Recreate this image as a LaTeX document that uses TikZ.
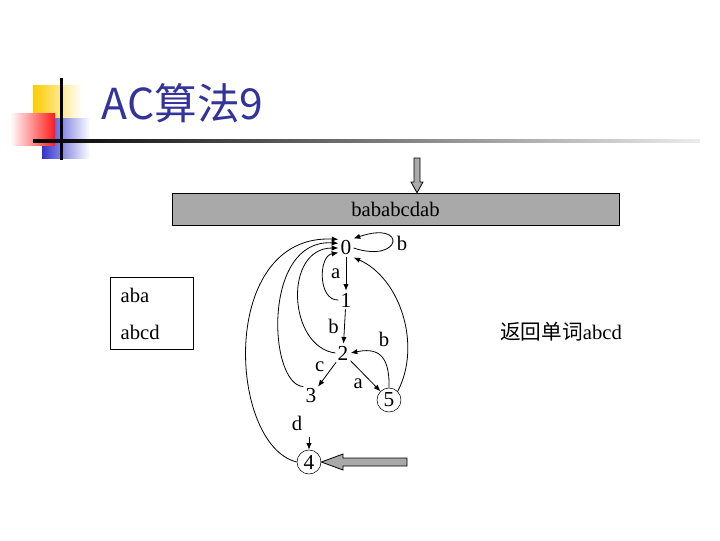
\documentclass[tikz,border=0pt]{standalone}
\usepackage{fontspec}
\setmainfont{Liberation Serif}
\newfontfamily\cjk{Noto Sans CJK SC}
\usetikzlibrary{arrows.meta,positioning}
\definecolor{titleblue}{HTML}{33339A}
\definecolor{bargray}{HTML}{A9A9A9}
\definecolor{decoyellow}{HTML}{FFCC00}
\definecolor{decored}{HTML}{FF1A1A}
\definecolor{decoblue}{HTML}{3333CC}

\begin{document}
\begin{tikzpicture}[x=0.75pt,y=-0.75pt,
  state/.style={inner sep=1.5pt,font=\fontsize{16}{18}\selectfont},
  accept/.style={state,draw,circle,minimum size=18pt,inner sep=0pt},
  lbl/.style={font=\fontsize{15.5}{18}\selectfont,inner sep=1pt},
  edge/.style={-{Latex[length=5pt,width=4pt]},line width=0.6pt},
  bigarrow/.style={draw=black,fill=bargray,line width=0.6pt}
]
\useasboundingbox (0,0) rectangle (720,540);
% title and its decoration
\shade[left color=decoyellow,right color=white] (33,85) rectangle (82,128);
\shade[left color=decoblue,right color=white] (42,118) rectangle (90,158);
\shade[left color=white,right color=decored] (10,113) rectangle (55,145);
\fill[black] (59.5,78) rectangle (62.5,160);
\shade[left color=black,right color=gray!15] (33,139.5) rectangle (700,142.5);
\node[font=\cjk\fontsize{32}{36}\selectfont,text=titleblue,anchor=west] (title) at (97,103) {AC算法9};

% input text
\node[draw,fill=bargray,minimum width=335pt,minimum height=24pt,lbl] (bar) at (395.5,209) {bababcdab};
\draw[bigarrow] (414,158) -- (420,158) -- (420,182) -- (423,182) -- (bar.north -| 417,0)
  -- (411,182) -- (414,182) -- cycle;

% dictionary
\node[draw,minimum width=62pt,minimum height=54pt] (dict) at (151.5,313) {};
\node[lbl,anchor=west] (w1) at (119,295) {aba};
\node[lbl,anchor=west] (w2) at (119,332) {abcd};

% automaton
\node[state] (s0) at (346,248) {0};
\node[state] (s1) at (346,300) {1};
\node[state] (s2) at (343,353) {2};
\node[state] (s3) at (311,396) {3};
\node[accept] (s5) at (389,400) {5};
\node[accept] (s4) at (309,462) {4};
\coordinate (dtop) at (309,437);

\draw[edge] (s0) -- node[lbl,left=3pt]{a} (s1);
\draw[edge] (s1) -- node[lbl,left=3pt]{b} (s2);
\draw[edge] (s2) -- node[lbl,above left=1pt]{c} (s3);
\draw[edge] (s2) -- node[lbl,below left=1pt]{a} (s5);
\draw[edge] (dtop) -- (s4);
\node[lbl] (dlbl) at (297,423) {d};
\draw[edge] (s0.east) .. controls (402,264) and (408,220) .. (s0.north east);
\node[lbl] (loopb) at (402,243) {b};
\draw[edge] (s5.north) .. controls (390,352) and (375,348) .. (s2.east);
\node[lbl] (backb) at (384,339) {b};
\draw[edge] (s5.north east) .. controls (422,345) and (400,278) .. (s0.south east);

% failure links
\draw[edge] (s1.west) .. controls (318,301) and (318,256) .. ([yshift=-3.5pt]s0.west);
\draw[edge] (s2.west) .. controls (288,347) and (283,248) .. (s0.west);
\draw[edge] (s3.north west) .. controls (268,385) and (262,238) .. ([yshift=3.5pt]s0.west);
\draw[edge] (s4.west) .. controls (228,445) and (218,234) .. ([yshift=6.5pt]s0.west);

\draw[bigarrow] (s4.east) -- (343,454) -- (343,458) -- (407,458) -- (407,466)
  -- (343,466) -- (343,470) -- cycle;

% output
\node[lbl] (result) at (561,332) {{\cjk 返回单词}abcd};
\end{tikzpicture}
\end{document}
